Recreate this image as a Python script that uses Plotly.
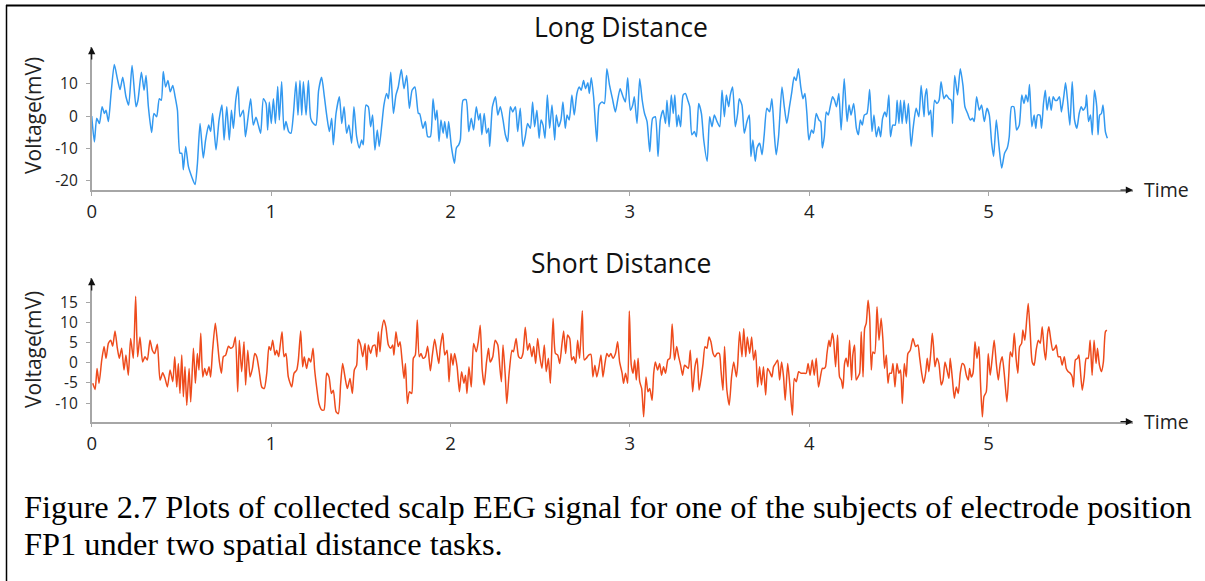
import plotly.graph_objects as go

# ---------------- data ----------------
long_t = [0.000,0.015,0.028,0.043,0.058,0.071,0.080,0.093,0.108,0.126,0.143,0.158,0.173,0.191,0.206,0.225,0.247,0.258,0.277,0.292,
0.303,0.316,0.334,0.347,0.362,0.377,0.388,0.399,0.412,0.425,0.438,0.452,0.465,0.478,0.492,0.502,0.511,0.524,0.539,0.557,
0.576,0.589,0.604,0.622,0.635,0.652,0.663,0.674,0.693,0.710,0.726,0.738,0.753,0.767,0.779,0.790,0.803,0.816,0.827,0.845,
0.857,0.871,0.886,0.901,0.916,0.929,0.942,0.957,0.972,0.981,0.990,1.001,1.013,1.024,1.037,1.046,1.059,1.072,1.083,1.098,
1.111,1.124,1.139,1.150,1.161,1.171,1.180,1.195,1.208,1.221,1.236,1.250,1.265,1.282,1.297,1.310,1.325,1.338,1.347,1.362,
1.381,1.394,1.407,1.421,1.434,1.449,1.462,1.477,1.492,1.505,1.514,1.529,1.542,1.555,1.566,1.579,1.592,1.603,1.617,1.629,
1.644,1.654,1.667,1.682,1.696,1.709,1.726,1.741,1.756,1.771,1.786,1.802,1.821,1.828,1.847,1.860,1.873,1.888,1.903,1.916,
1.925,1.936,1.947,1.959,1.968,1.981,1.990,2.005,2.022,2.033,2.046,2.055,2.070,2.087,2.102,2.116,2.129,2.144,2.157,2.166,
2.175,2.188,2.201,2.212,2.219,2.234,2.251,2.264,2.278,2.293,2.306,2.319,2.334,2.347,2.362,2.375,2.389,2.404,2.417,2.430,
2.445,2.458,2.469,2.482,2.494,2.505,2.516,2.527,2.540,2.553,2.566,2.581,2.590,2.603,2.616,2.627,2.640,2.650,2.662,2.677,
2.690,2.705,2.718,2.729,2.742,2.753,2.766,2.774,2.785,2.798,2.816,2.829,2.845,2.858,2.872,2.887,2.903,2.919,2.932,2.946,
2.962,2.975,2.988,3.003,3.016,3.025,3.040,3.055,3.069,3.082,3.096,3.111,3.127,3.142,3.157,3.170,3.185,3.199,3.207,3.219,
3.231,3.242,3.251,3.262,3.271,3.283,3.297,3.310,3.323,3.334,3.346,3.360,3.371,3.384,3.399,3.412,3.431,3.445,3.458,3.471,
3.486,3.501,3.514,3.527,3.538,3.551,3.560,3.573,3.588,3.601,3.610,3.625,3.638,3.653,3.666,3.675,3.686,3.699,3.709,3.724,
3.737,3.749,3.764,3.779,3.792,3.805,3.816,3.829,3.848,3.861,3.875,3.890,3.903,3.916,3.927,3.940,3.953,3.965,3.976,3.987,
3.998,4.013,4.024,4.039,4.054,4.064,4.073,4.084,4.095,4.106,4.117,4.130,4.141,4.152,4.165,4.178,4.195,4.211,4.222,4.233,
4.248,4.263,4.274,4.285,4.296,4.307,4.322,4.337,4.350,4.361,4.374,4.387,4.398,4.409,4.422,4.431,4.444,4.453,4.466,4.479,
4.490,4.500,4.509,4.518,4.529,4.542,4.553,4.568,4.579,4.596,4.611,4.624,4.640,4.646,4.655,4.666,4.677,4.686,4.699,4.712,
4.724,4.735,4.751,4.764,4.779,4.792,4.799,4.811,4.827,4.842,4.857,4.868,4.883,4.898,4.911,4.920,4.933,4.948,4.961,4.976,
4.991,5.004,5.017,5.028,5.043,5.058,5.073,5.089,5.104,5.115,5.128,5.141,5.156,5.171,5.185,5.197,5.208,5.219,5.228,5.241,
5.254,5.263,5.273,5.286,5.295,5.306,5.316,5.326,5.338,5.349,5.360,5.371,5.382,5.395,5.406,5.419,5.429,5.440,5.453,5.466,
5.479,5.492,5.505,5.516,5.527,5.540,5.546,5.557,5.568,5.578,5.590,5.603,5.610,5.619,5.629,5.638,5.651,5.662]

long_v = [0,-8,-0.7,-2.3,2.9,0.8,1.8,-1.7,7,16,11.6,8.2,12,6,3.4,15.7,2.9,4.9,13.6,8,
12.6,2.9,-5.1,0.8,-0.2,5.4,4.9,13.8,9,11,7.5,9.5,6,1.8,-11.5,-11.5,-16.6,-9.4,-15.6,-18.7,
-21.2,-15,-2.3,-13,-7.4,-2.8,-4.8,0.8,-10.5,-1.2,3.4,-7.4,2.9,-7.4,1.8,-3.8,4.9,9.2,-0.2,1.8,
-6.4,-0.7,5.4,-2.8,-0.4,-2.8,-5.3,5.4,3.9,-4.3,4.4,-2.3,5.4,-2.3,9.2,-1.2,10.6,-4.3,-1.7,-4.8,
-5.3,0.3,10.6,0.3,11,0.3,10.6,0.3,11,-0.7,-2.3,-2.8,8,12,6,0.3,-4.8,-0.7,-8.9,0.8,
6,-2.3,2.9,-5.3,-2.8,-8.4,2.9,-6.4,-9.9,-7.4,-8.9,3.4,2.9,-3.3,0.3,-10.5,-4.3,-9.4,-2.8,3.4,
7,5.4,13.6,0.8,6.5,9,14.4,8.5,12.6,2.4,8,9,0.8,0.8,-3.8,-1.7,-6.4,-6.4,5.4,-1.2,
1.8,-7.9,-1.2,-5.3,-1.7,-6.9,-1.7,-9.4,-14.6,-9.9,-8.9,-7.4,4.9,5.1,-4.8,-0.7,-4.3,2.9,-1.2,0.8,
-5.8,0.8,-5.3,-3.8,-9.4,2.9,6,0.3,2.9,-1.2,-5.8,-7.9,2.9,1.3,2.9,-4.8,2.4,-9.4,-6.4,-2.3,
-3.8,4.4,-3.3,1.8,-6.9,-1.2,-2.8,-6.9,6.5,-3.8,3.4,-7.4,0.3,-3.3,-1.2,4.4,-3.8,0.3,-1.2,6.5,
0.3,7,9,8,11,8.5,10.3,7,11.9,6,-7.9,3.4,4.4,3.9,14.7,9.5,5.4,1.3,4.9,8.5,
6,4.4,11.9,1.8,3.4,6,-2.3,11.6,4.9,0.8,-1.7,-11,-0.7,-0.2,-12.5,-1.2,1.8,-2.3,4.9,-3.3,
6.5,0.8,6.5,-3.3,0.3,-3.3,6.5,7,4.9,2.9,-5.8,-4.8,-6.4,3.9,0.8,-7.4,-14,-0.2,-3.3,0.3,
-1.7,-3.3,8,-0.2,6.5,2.9,6.5,9,-3.3,0.8,5.4,3.4,-5.3,-1.7,0.3,-12.5,-7.4,-14,-9.9,-8.4,
-12,-5.8,2.4,1.3,5.4,-5.3,-12,-6.4,9,2.9,-2.3,2.9,7.5,12.1,11,14.7,9,5.4,7,0.8,
-7.4,-4.3,-5.3,0.8,-1.2,-1.7,-9.9,-6.4,1.3,0.3,2.9,6,4.9,2.9,7,-4.3,11.6,-1.7,3.4,0.3,
3.9,-3.8,-5.8,-1.2,-2.8,0.3,0.8,8.2,-4.8,0.3,-6.4,-3.3,-6.4,-0.7,1.3,-0.2,6.5,-6.4,-2.8,-2.8,
4.9,-2.3,4.9,-2.3,4.9,-2.3,3.9,-9.4,-3.8,2.4,-0.2,9.5,-0.2,6,8.5,0.3,1.8,-6.4,4.9,3.9,
4.9,10.6,5.4,6.5,5.4,4.9,-2.3,12.6,6.5,14.7,9.5,2.9,0.8,-1.2,-0.7,-1.7,6,1.8,3.4,-1.7,
2.4,0.3,-8.4,-12.5,-1.2,-9.4,-16.1,-11.5,-9.9,-6.4,2.9,2.9,-4.3,-2.8,6.5,3.9,6.5,4.4,9.8,-3.3,
0.3,-3.8,0.3,0.3,-3.8,3.9,8,1.8,6,1.8,6,4.9,4.9,6,1.3,6,10.3,4.9,-2.8,10.6,
-1.2,-3.8,0.8,2.9,1.8,2.9,6.5,-1.7,0.3,-5.8,8,2.9,-5.8,0.3,0.8,3.4,-4.8,-6.9]

short_t = [0.006,0.019,0.030,0.041,0.056,0.069,0.080,0.093,0.106,0.117,0.130,0.143,0.154,0.167,0.180,0.191,0.204,0.217,0.232,0.245,
0.256,0.269,0.284,0.297,0.310,0.325,0.338,0.351,0.366,0.381,0.396,0.409,0.422,0.437,0.452,0.463,0.474,0.483,0.492,0.502,
0.511,0.520,0.530,0.543,0.552,0.567,0.578,0.589,0.598,0.608,0.619,0.630,0.641,0.654,0.663,0.674,0.689,0.700,0.712,0.723,
0.734,0.747,0.762,0.775,0.788,0.801,0.814,0.823,0.836,0.849,0.858,0.870,0.883,0.896,0.909,0.920,0.933,0.948,0.962,0.976,
0.988,0.998,1.009,1.022,1.031,1.042,1.050,1.061,1.072,1.083,1.096,1.115,1.128,1.143,1.152,1.165,1.176,1.185,1.198,1.210,
1.221,1.234,1.243,1.254,1.267,1.282,1.295,1.310,1.323,1.336,1.347,1.362,1.375,1.388,1.399,1.412,1.425,1.440,1.453,1.464,
1.477,1.486,1.499,1.511,1.524,1.533,1.542,1.555,1.566,1.579,1.589,1.598,1.607,1.617,1.629,1.640,1.654,1.667,1.678,1.685,
1.696,1.709,1.719,1.730,1.741,1.749,1.760,1.771,1.784,1.793,1.804,1.815,1.826,1.836,1.847,1.860,1.873,1.888,1.899,1.912,
1.925,1.935,1.944,1.957,1.968,1.981,1.992,2.003,2.014,2.023,2.037,2.050,2.062,2.075,2.084,2.092,2.103,2.116,2.129,2.144,
2.155,2.166,2.177,2.188,2.201,2.212,2.221,2.236,2.249,2.264,2.275,2.284,2.293,2.306,2.314,2.327,2.343,2.351,2.366,2.380,
2.393,2.404,2.417,2.430,2.441,2.454,2.464,2.475,2.486,2.497,2.510,2.523,2.534,2.546,2.557,2.572,2.585,2.598,2.609,2.620,
2.631,2.642,2.653,2.665,2.676,2.687,2.698,2.709,2.720,2.735,2.746,2.757,2.770,2.783,2.794,2.805,2.816,2.828,2.839,2.850,
2.861,2.872,2.883,2.894,2.906,2.920,2.932,2.943,2.957,2.965,2.976,2.988,2.997,3.008,3.018,3.027,3.036,3.046,3.055,3.066,
3.077,3.090,3.101,3.111,3.124,3.133,3.142,3.155,3.166,3.177,3.188,3.199,3.212,3.223,3.236,3.249,3.261,3.272,3.283,3.294,
3.305,3.316,3.326,3.337,3.350,3.363,3.375,3.386,3.397,3.408,3.419,3.430,3.441,3.452,3.464,3.475,3.486,3.499,3.508,3.519,
3.528,3.541,3.554,3.567,3.579,3.594,3.601,3.612,3.625,3.635,3.646,3.655,3.668,3.679,3.690,3.701,3.712,3.723,3.734,3.745,
3.757,3.768,3.779,3.792,3.801,3.812,3.824,3.835,3.846,3.857,3.866,3.880,3.891,3.906,3.917,3.928,3.941,3.954,3.969,3.983,
3.994,4.005,4.017,4.028,4.039,4.052,4.073,4.084,4.091,4.099,4.110,4.117,4.129,4.136,4.147,4.158,4.169,4.179,4.188,4.197,
4.206,4.216,4.225,4.236,4.243,4.253,4.262,4.272,4.281,4.290,4.300,4.309,4.318,4.328,4.337,4.346,4.355,4.365,4.378,4.389,
4.401,4.411,4.420,4.430,4.439,4.448,4.458,4.467,4.478,4.489,4.500,4.509,4.519,4.530,4.541,4.550,4.563,4.578,4.593,4.606,
4.615,4.627,4.638,4.649,4.658,4.667,4.678,4.686,4.693,4.701,4.712,4.723,4.736,4.746,4.757,4.768,4.779,4.786,4.798,4.809,
4.820,4.831,4.842,4.853,4.864,4.876,4.887,4.894,4.903,4.913,4.924,4.935,4.946,4.955,4.965,4.974,4.987,4.998,5.009,5.020,
5.031,5.043,5.054,5.065,5.076,5.089,5.102,5.113,5.121,5.132,5.143,5.154,5.163,5.173,5.184,5.191,5.202,5.213,5.221,5.232,
5.243,5.254,5.265,5.277,5.288,5.299,5.310,5.318,5.329,5.336,5.347,5.358,5.369,5.377,5.388,5.399,5.410,5.422,5.433,5.444,
5.455,5.466,5.473,5.484,5.496,5.503,5.510,5.522,5.533,5.544,5.555,5.566,5.577,5.588,5.599,5.607,5.618,5.629,5.640,5.651,
5.659]

short_v = [-5.1,-6.6,-1.4,-5.1,0.7,4,1.1,4.8,5.6,4.1,7.9,3.6,1.1,3.6,-1.8,1.9,-3.1,6,1.1,16.5,
1.5,6.4,0.2,1.5,0.7,5.6,3.1,2.3,4.6,-4.3,-2.5,-3.9,-6,-1.8,-4.7,1.5,-6,-0.2,-7.6,1.9,
-8.4,-1,-10.5,-1.4,-9.7,3.6,-5.1,2.3,-1.8,7.3,-3.5,-1.4,-3.1,-1,-3.5,3.1,9.8,5.6,0.2,-2.6,
1.5,1.9,4.1,3.6,4,6.4,-7.2,5.6,-2.2,5.2,-5.5,3.1,-3.5,-1.4,2.3,1.5,-1.8,-6,-6.4,-2.6,
4,3.1,5.6,1.9,3.1,1.5,4,7.7,1.5,2.3,-3.5,-6,-2.6,-1.8,0.7,7.9,-1,1.5,-1.4,1.1,
0.2,3.6,-1.8,-6,-10.1,-11.7,-11.7,-2.6,-3.5,-7.6,-6.8,-12.1,-12.6,-5.1,-0.2,-3.5,-6.4,-3.9,-7.6,-1.8,
-0.6,5.8,4.4,1.5,4.8,-1.8,4.4,2.3,4.1,4.4,1.5,7.7,2.7,8.1,10.6,8.9,4.4,3.6,4.4,1.9,
7.7,4,5.2,0.7,-3.9,-0.2,-10.1,-7.2,-7.6,1.1,1.9,10.6,1.5,2.3,1.1,1.5,4.1,-2,1.9,5.8,
2.3,-0.2,4,7.3,1.9,3.1,-4.7,2.3,-0.6,2.3,-1,-7.2,-2.2,-5.1,-3.1,-7.6,-1,-6,4.8,2.7,
5.2,9.3,-1.8,-5.5,0.2,3.6,0.2,1.5,5.6,4.4,-1,-4.7,4.4,-3.5,-10.1,-2.6,3.1,2.7,6,1.5,
1.1,2.3,8.8,3.1,4.8,1.5,4,-0.2,6,1.9,-1.4,4.4,-2.2,1.1,-5.1,11,2.3,1.9,-0.2,4,
7.9,2.3,6.9,6,0.7,1.5,-0.2,5.6,1.1,12.9,0.7,1.1,1.9,2.1,-3.5,-0.6,-3.5,-1,1.9,-3.5,
-0.2,2.3,1.5,2.3,1.1,2.3,5.2,0.2,-2.6,-5.1,-2.6,-5.1,12.8,-0.6,-2.6,0.7,-4.3,1.1,-4.7,-6.4,
-13.4,-3.5,-7.2,-6.4,-9.3,-2.6,0.2,-1.8,-0.2,-3.1,-1,-2.6,0.7,1.1,9.6,0.7,4,1.5,-0.6,-3.1,
-0.6,-1,-1.4,3.1,-7.2,-1,1.1,-6.8,-3.9,-0.2,4,3.6,6.4,5.2,2.3,1.5,2.3,2.3,-1.8,-6.8,
4,-6.8,-10.5,-3.5,0.2,-3.5,-0.6,7.7,1.5,8.5,1.5,6.4,2.3,6.4,0.7,3.1,-6,-1,-5.5,-1,
-8,-1.4,-2.2,-3.5,-1,-0.2,0.7,-4.3,0.2,-3.5,-9.3,-0.2,-5.1,-13,-3.9,-4.7,-2.2,-2.6,-2.6,-2.6,
-0.2,-3.1,0.7,-3.1,1.1,-6,-1.4,-1.4,-1,2.3,5.6,4,7.3,5.6,-1,6.9,-3.5,-4.3,-6.4,-0.2,
1.1,-1,5.6,-4.3,1.9,4.4,-4.3,-3.5,-2.6,7.7,-3.5,8.5,9.8,15.5,11.4,-1.8,2.7,2.3,13.9,5.6,
11,5.6,-1.4,1.9,-5.1,-2.6,-2.6,-0.2,-6,-0.2,-2.6,-1.8,-10.1,-0.2,-3.5,2.3,3.1,6,4,4.4,
1.5,-2.6,-5.1,-2.6,1.1,-2.2,2.7,7.3,4,-1,1.1,-0.2,-5.5,-4.3,0.2,-1.8,-3.9,1.1,-3.9,-8.8,
-6,-7.6,-2.6,-0.2,-0.6,-3.1,-4.3,-1.4,-3.5,-2.6,5.2,1.1,4,-5.1,-13.4,-8.4,-7.2,2.3,-3.1,1.1,
5.6,-0.2,-4.3,-0.2,1.5,-3.5,-9.7,-2.6,2.7,1.5,7.3,0.7,-2.6,4,4.8,8.1,5.6,11,14.7,7.3,
0.2,-0.6,3.1,5.6,4.8,8.9,3.1,0.7,7.3,8.9,5.6,3.1,3.6,4.4,1.5,1.5,-0.6,1.5,-1.4,-2.2,
-2.6,-3.5,-6,0.7,1.1,1.9,-1,-6.8,-3.5,1.1,1.1,5.6,-3.1,5.6,-0.2,3.6,-0.6,-2.2,0.2,7.7,
8.1]

x_ticks = [0, 1, 2, 3, 4, 5]
long_y_ticks = [-20, -10, 0, 10]
short_y_ticks = [-10, -5, 0, 5, 10, 15]
titles = ["Long Distance", "Short Distance"]
y_label = "Voltage(mV)"
x_label = "Time"
caption = ["Figure 2.7 Plots of collected scalp EEG signal for one of the subjects of electrode position",
           "FP1 under two spatial distance tasks."]

# ---------------- layout helpers ----------------
W, H = 1205, 581
SANS = "Open Sans, Noto Sans, DejaVu Sans, sans-serif"
AX_COLOR = "#a6a6a6"

def fx(px):  # pixel x -> paper fraction
    return px / W

def fy(py):  # pixel y (from top) -> paper fraction
    return 1 - py / H

X_MAX = 5.805
LONG_RANGE = [-22.9, 21.4]
SHORT_RANGE = [-14.6, 21.0]

fig = go.Figure()
fig.add_trace(go.Scatter(x=long_t, y=long_v, mode="lines",
                         line=dict(color="#3399f0", width=1.5, shape="spline", smoothing=0.6),
                         xaxis="x", yaxis="y", showlegend=False, hoverinfo="skip"))
fig.add_trace(go.Scatter(x=short_t, y=short_v, mode="lines",
                         line=dict(color="#ee4b1c", width=1.5, shape="spline", smoothing=0.6),
                         xaxis="x2", yaxis="y2", showlegend=False, hoverinfo="skip"))

common_x = dict(range=[0, X_MAX], showline=True, linecolor=AX_COLOR, linewidth=1.5,
                showgrid=False, zeroline=False, tickmode="array", tickvals=x_ticks,
                ticktext=[str(v) for v in x_ticks],
                ticks="outside", ticklen=4, tickcolor=AX_COLOR, tickwidth=1,
                tickfont=dict(family=SANS, size=18.5, color="#222"),
                domain=[fx(91.7), fx(1133)])
common_y = dict(showline=True, linecolor=AX_COLOR, linewidth=1.5, showgrid=False,
                zeroline=False, tickmode="array", ticks="outside", ticklen=4,
                tickcolor=AX_COLOR, tickwidth=1, ticklabelstandoff=5,
                tickfont=dict(family=SANS, size=15.5, color="#222"))

fig.update_layout(
    width=W, height=H,
    margin=dict(l=0, r=0, t=0, b=0, autoexpand=False),
    paper_bgcolor="white", plot_bgcolor="white",
    xaxis=dict(common_x, anchor="y"),
    xaxis2=dict(common_x, anchor="y2"),
    yaxis=dict(common_y, range=LONG_RANGE, tickvals=long_y_ticks,
               ticktext=[str(v) for v in long_y_ticks], anchor="x",
               domain=[fy(190), fy(47)]),
    yaxis2=dict(common_y, range=SHORT_RANGE, tickvals=short_y_ticks,
                ticktext=[str(v) for v in short_y_ticks], anchor="x2",
                domain=[fy(421.7), fy(278)]),
)

ann = []
# titles
ann.append(dict(text=titles[0], x=fx(621), y=fy(27), xref="paper", yref="paper",
                showarrow=False, font=dict(family=SANS, size=26.5, color="#111"),
                xanchor="center", yanchor="middle"))
ann.append(dict(text=titles[1], x=fx(621), y=fy(263), xref="paper", yref="paper",
                showarrow=False, font=dict(family=SANS, size=26.5, color="#111"),
                xanchor="center", yanchor="middle"))
# y labels
for yc in (116, 350):
    ann.append(dict(text=y_label, x=fx(33), y=fy(yc), xref="paper", yref="paper",
                    showarrow=False, textangle=-90,
                    font=dict(family=SANS, size=21, color="#222"),
                    xanchor="center", yanchor="middle"))
# x labels
for yc in (189, 421):
    ann.append(dict(text=x_label, x=fx(1142), y=fy(yc), xref="paper", yref="paper",
                    showarrow=False, font=dict(family=SANS, size=19.5, color="#222"),
                    xanchor="left", yanchor="middle"))
# arrow heads on axes
for xr, yr, rng in (("x", "y", LONG_RANGE), ("x2", "y2", SHORT_RANGE)):
    ann.append(dict(x=X_MAX, y=rng[0], xref=xr, yref=yr, ax=-14, ay=0,
                    showarrow=True, arrowhead=2, arrowsize=1.2, arrowwidth=1.2,
                    arrowcolor="#111", text="", standoff=0))
    ann.append(dict(x=0, y=rng[1], xref=xr, yref=yr, ax=0, ay=14,
                    showarrow=True, arrowhead=2, arrowsize=1.2, arrowwidth=1.2,
                    arrowcolor="#111", text="", standoff=0))
# caption
SERIF = "Liberation Serif, Times New Roman, serif"
ann.append(dict(text=caption[0], x=fx(22), y=fy(507), xref="paper", yref="paper",
                showarrow=False, font=dict(family=SERIF, size=32.4, color="#000"),
                xanchor="left", yanchor="middle"))
ann.append(dict(text=caption[1], x=fx(22), y=fy(544), xref="paper", yref="paper",
                showarrow=False, font=dict(family=SERIF, size=32.4, color="#000"),
                xanchor="left", yanchor="middle"))
fig.update_layout(annotations=ann)

# frame lines (top and left)
fig.update_layout(shapes=[
    dict(type="line", xref="paper", yref="paper", x0=fx(6), x1=1, y0=fy(5.5), y1=fy(5.5),
         line=dict(color="#000", width=2)),
    dict(type="line", xref="paper", yref="paper", x0=fx(6.5), x1=fx(6.5), y0=fy(5), y1=0,
         line=dict(color="#000", width=1.5)),
])

fig.write_html("out.html")
